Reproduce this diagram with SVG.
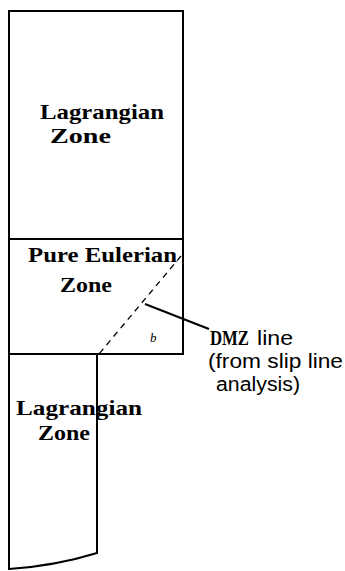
<svg xmlns="http://www.w3.org/2000/svg" width="345" height="571" viewBox="0 0 345 571">
<style>
.edge{fill:none;stroke:#000;stroke-width:2}
.zl{font-family:"Liberation Serif","Times New Roman",serif;font-weight:bold;font-size:21px;fill:#000}
.sans{font-family:"Liberation Sans",Arial,sans-serif;font-size:20px;fill:#000}
</style>
<rect width="345" height="571" fill="#fff"/>
<g id="lagrangian-top">
<rect x="9" y="11" width="174" height="228" class="edge"/>
<text class="zl" x="40" y="119" textLength="124" lengthAdjust="spacingAndGlyphs">Lagrangian</text>
<text class="zl" x="50" y="143" textLength="61" lengthAdjust="spacingAndGlyphs">Zone</text>
</g>
<g id="pure-eulerian">
<rect x="9" y="239" width="174" height="115" class="edge"/>
<text class="zl" x="28" y="262" textLength="149" lengthAdjust="spacingAndGlyphs">Pure Eulerian</text>
<text class="zl" x="60" y="292" textLength="52" lengthAdjust="spacingAndGlyphs">Zone</text>
<text x="150" y="342" font-family="Liberation Serif,serif" font-style="italic" font-size="13">b</text>
</g>
<g id="lagrangian-bottom">
<path d="M9,354 L9,569 Q55,566 97,553 L97,354" class="edge"/>
<text class="zl" x="16" y="415" textLength="126" lengthAdjust="spacingAndGlyphs">Lagrangian</text>
<text class="zl" x="38" y="440" textLength="52" lengthAdjust="spacingAndGlyphs">Zone</text>
</g>
<g id="connectors">
<line x1="181" y1="256" x2="99" y2="354" stroke="#000" stroke-width="1.3" stroke-dasharray="6,5"/>
<path d="M145,304 L209,329" fill="none" stroke="#000" stroke-width="2"/>
</g>
<g id="dmz-label">
<text x="210" y="345" class="zl" textLength="39" lengthAdjust="spacingAndGlyphs">DMZ</text>
<text x="257" y="345" class="sans" textLength="36" lengthAdjust="spacingAndGlyphs">line</text>
<text x="208" y="368" class="sans" textLength="135" lengthAdjust="spacingAndGlyphs">(from slip line</text>
<text x="216" y="391" class="sans" textLength="84" lengthAdjust="spacingAndGlyphs">analysis)</text>
</g>
</svg>
